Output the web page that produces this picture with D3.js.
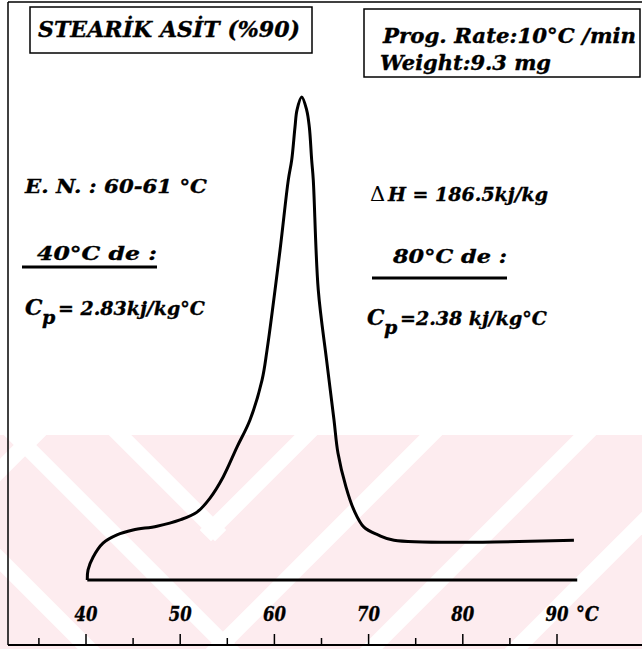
<!DOCTYPE html>
<html>
<head>
<meta charset="utf-8">
<script src="https://cdn.jsdelivr.net/npm/d3@7"></script>
<style>
  body { margin: 0; background: #fff; }
  svg text { font-family: "DejaVu Serif", "Liberation Serif", serif; font-weight: bold; font-style: italic; fill: #000; stroke: #000; stroke-width: 0.35; }
  .axis path.domain { display: none; }
  .axis line { stroke: #000; stroke-width: 1.5; }
</style>
</head>
<body>
<svg></svg>
<script>

var width = 642;
var height = 649;

// DSC trace: temperature (°C) and heat flow (arbitrary units)
var temps    = [40.19, 40.27, 40.80, 41.86, 43.34, 45.04, 47.59, 50.03, 51.84, 53.22, 54.60, 56.08, 57.46, 58.74, 59.27, 60.65, 61.53, 61.89, 62.24, 62.45, 62.95, 63.48, 63.76, 64.01, 64.18, 64.71, 65.59, 66.38, 66.80, 67.65, 68.50, 69.56, 71.05, 72.75, 91.85];
var heatFlow = [0.00, 0.21, 0.47, 0.76, 0.93, 1.03, 1.11, 1.24, 1.40, 1.69, 2.12, 2.74, 3.30, 4.12, 4.74, 6.80, 8.25, 8.66, 9.34, 9.69, 9.96, 9.69, 9.34, 8.66, 8.25, 5.98, 4.54, 3.30, 2.62, 1.92, 1.44, 1.09, 0.93, 0.82, 0.82];

// baseline drawn under the trace
var baseTemps = [40.19, 92.2];
var baseFlow  = [0, 0];

var majorTicks = [40, 50, 60, 70, 80, 90];
var minorTicks = [35, 45, 55, 65, 75, 85];
var unitLabel = "°C";

var titleText = "STEARİK ASİT (%90)";
var infoLines = ["Prog. Rate:10°C /min", "Weight:9.3 mg"];

// background watermark of the scan (pink band with white diagonal stripes)
var wmBand = {y0: 435, y1: 649, color: "#fdecef"};
var wmStripes = [
  [[0, 470], [40, 430]],
  [[15, 435], [229, 649]],
  [[0, 560], [89, 649]],
  [[120, 435], [215, 530]],
  [[211, 530], [306, 435]],
  [[217, 649], [431, 435]],
  [[371, 649], [585, 435]],
  [[516, 649], [650, 515]]
];

var svg = d3.select("svg").attr("width", width).attr("height", height);

var x = d3.scaleLinear().domain([40, 90]).range([85.5, 556.5]);
var y = d3.scaleLinear().domain([0, 10]).range([580, 95]);

// watermark
svg.append("clipPath").attr("id", "wmclip")
  .append("rect").attr("x", 0).attr("y", wmBand.y0).attr("width", width).attr("height", wmBand.y1 - wmBand.y0);
var wm = svg.append("g").attr("clip-path", "url(#wmclip)");
wm.append("rect").attr("x", 0).attr("y", wmBand.y0).attr("width", width).attr("height", wmBand.y1 - wmBand.y0)
  .attr("fill", wmBand.color);
wm.selectAll("line").data(wmStripes).enter().append("line")
  .attr("x1", function(d) { return d[0][0]; })
  .attr("y1", function(d) { return d[0][1]; })
  .attr("x2", function(d) { return d[1][0]; })
  .attr("y2", function(d) { return d[1][1]; })
  .attr("stroke", "#fff").attr("stroke-width", 16).attr("stroke-linecap", "square");

// frame
svg.append("line").attr("x1", 8).attr("y1", 2).attr("x2", 8).attr("y2", 645).attr("stroke", "#000").attr("stroke-width", 1.5);
svg.append("line").attr("x1", 8).attr("y1", 2).attr("x2", 642).attr("y2", 2).attr("stroke", "#000").attr("stroke-width", 1.5);
svg.append("line").attr("x1", 8).attr("y1", 645).attr("x2", 642).attr("y2", 645).attr("stroke", "#000").attr("stroke-width", 2);

// axis: ticks pointing up, labels above
svg.append("g").attr("class", "axis")
  .attr("transform", "translate(0,645)")
  .call(d3.axisTop(x).tickValues(minorTicks).tickSize(7).tickFormat(""));

var xAxis = svg.append("g").attr("class", "axis")
  .attr("transform", "translate(0,645)")
  .call(d3.axisTop(x).tickValues(majorTicks).tickSize(11).tickPadding(13).tickFormat(d3.format("d")));
xAxis.selectAll("text").attr("font-size", 20).attr("font-family", null).attr("fill", "#000")
  .attr("textLength", 23).attr("lengthAdjust", "spacingAndGlyphs");

svg.append("text")
  .attr("x", 576).attr("y", 621)
  .attr("font-size", 20)
  .attr("textLength", 23).attr("lengthAdjust", "spacingAndGlyphs")
  .text(unitLabel);

// baseline and trace
var line = d3.line()
  .x(function(d) { return x(d[0]); })
  .y(function(d) { return y(d[1]); });

svg.append("path")
  .datum(d3.zip(baseTemps, baseFlow))
  .attr("d", line)
  .attr("fill", "none").attr("stroke", "#000").attr("stroke-width", 3);

svg.append("path")
  .datum(d3.zip(temps, heatFlow))
  .attr("d", line.curve(d3.curveCatmullRom.alpha(0.5)))
  .attr("fill", "none").attr("stroke", "#000").attr("stroke-width", 3)
  .attr("stroke-linejoin", "round");

// text helper: place a string so it spans [x0, x1]
function note(x0, x1, yp, txt, size) {
  return svg.append("text").attr("x", x0).attr("y", yp).attr("font-size", size)
    .attr("textLength", x1 - x0).attr("lengthAdjust", "spacingAndGlyphs").text(txt);
}

// title boxes
svg.append("rect").attr("x", 30).attr("y", 7).attr("width", 282).attr("height", 46)
  .attr("fill", "none").attr("stroke", "#000").attr("stroke-width", 1.5);
note(38, 300, 37, titleText, 22);

svg.append("rect").attr("x", 364).attr("y", 9).attr("width", 276).attr("height", 68)
  .attr("fill", "none").attr("stroke", "#000").attr("stroke-width", 1.5);
note(383, 636, 43, infoLines[0], 20);
note(380, 551, 70, infoLines[1], 20);

// C_p = ... written as one text with a subscript
function cpNote(xp, yp, xr, rest) {
  var t = svg.append("text").attr("x", xp).attr("y", yp).attr("font-size", 22);
  t.append("tspan").text("C");
  t.append("tspan").attr("x", xp + 17).attr("dy", 9).attr("font-size", 19).text("p");
  t.append("tspan").attr("x", xr).attr("dy", -9).attr("font-size", 19).text(rest);
}

note(25, 207, 193, "E. N. : 60-61 °C", 19);
note(37, 157, 260, "40°C  de :", 19);
svg.append("line").attr("x1", 22).attr("y1", 267).attr("x2", 157).attr("y2", 267).attr("stroke", "#000").attr("stroke-width", 3);
cpNote(25, 315, 58, "= 2.83kj/kg°C");

var dh = svg.append("text").attr("x", 370).attr("y", 201).attr("font-size", 21);
dh.append("tspan").attr("font-style", "normal").attr("font-weight", "normal").attr("stroke-width", 0).text("Δ");
dh.append("tspan").attr("x", 388).attr("font-size", 19).text("H = 186.5kj/kg");

note(393, 507, 263, "80°C  de :", 19);
svg.append("line").attr("x1", 372).attr("y1", 278).attr("x2", 507).attr("y2", 278).attr("stroke", "#000").attr("stroke-width", 3);
cpNote(367, 325, 400, "=2.38 kj/kg°C");

</script>
</body>
</html>
